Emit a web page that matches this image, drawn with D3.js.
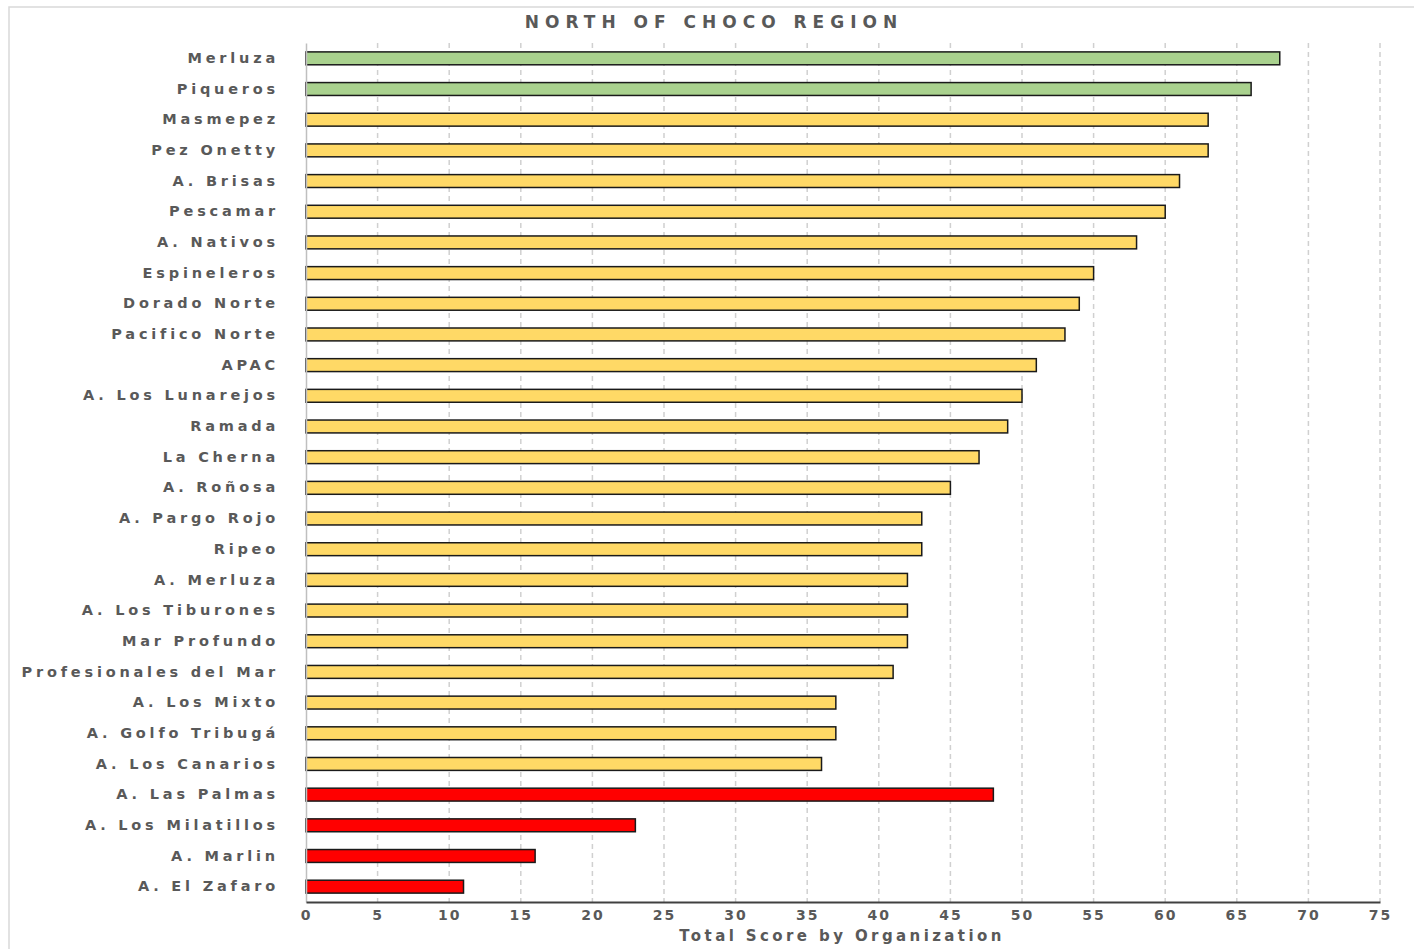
<!DOCTYPE html>
<html>
<head>
<meta charset="utf-8">
<script src="https://cdn.jsdelivr.net/npm/d3@7"></script>
<style>
  body { margin: 0; background: #fff; }
  text { font-family: "DejaVu Sans", sans-serif; font-weight: bold; fill: #595959; }
</style>
</head>
<body>
<svg id="chart" width="1414" height="949"></svg>
<script>
const organizations = [
  "Merluza", "Piqueros", "Masmepez", "Pez Onetty", "A. Brisas", "Pescamar",
  "A. Nativos", "Espineleros", "Dorado Norte", "Pacifico Norte", "APAC",
  "A. Los Lunarejos", "Ramada", "La Cherna", "A. Roñosa", "A. Pargo Rojo",
  "Ripeo", "A. Merluza", "A. Los Tiburones", "Mar Profundo",
  "Profesionales del Mar", "A. Los Mixto", "A. Golfo Tribugá",
  "A. Los Canarios", "A. Las Palmas", "A. Los Milatillos", "A. Marlin",
  "A. El Zafaro"
];
const scores = [68, 66, 63, 63, 61, 60, 58, 55, 54, 53, 51, 50, 49, 47, 45, 43,
  43, 42, 42, 42, 41, 37, 37, 36, 48, 23, 16, 11];
const groups = ["green", "green", "yellow", "yellow", "yellow", "yellow", "yellow",
  "yellow", "yellow", "yellow", "yellow", "yellow", "yellow", "yellow", "yellow",
  "yellow", "yellow", "yellow", "yellow", "yellow", "yellow", "yellow", "yellow",
  "yellow", "red", "red", "red", "red"];
const xTicks = [0, 5, 10, 15, 20, 25, 30, 35, 40, 45, 50, 55, 60, 65, 70, 75];

const groupColor = { green: "#a9d18e", yellow: "#ffd966", red: "#ff0000" };

const data = organizations.map((name, i) => ({ name: name, score: scores[i], group: groups[i] }));

const svg = d3.select("#chart");
const plotLeft = 306, plotRight = 1380, plotTop = 43, plotBottom = 902;

// chart frame
svg.append("rect")
  .attr("x", 9).attr("y", 7).attr("width", 1420).attr("height", 960)
  .attr("fill", "none").attr("stroke", "#d9d9d9").attr("stroke-width", 1.5);

const x = d3.scaleLinear().domain([0, 75]).range([plotLeft, plotRight]);
const y = d3.scaleBand().domain(organizations).range([plotTop, plotBottom]).paddingInner(0.58).paddingOuter(0.29);

// gridlines
svg.append("g")
  .selectAll("line")
  .data(xTicks.filter(t => t > 0))
  .join("line")
  .attr("x1", d => x(d)).attr("x2", d => x(d))
  .attr("y1", plotTop).attr("y2", plotBottom)
  .attr("stroke", "#d0d0d0")
  .attr("stroke-width", 1.5)
  .attr("stroke-dasharray", "5,4");

// bars
svg.append("g")
  .selectAll("rect")
  .data(data)
  .join("rect")
  .attr("x", x(0))
  .attr("y", d => y(d.name))
  .attr("width", d => x(d.score) - x(0))
  .attr("height", y.bandwidth())
  .attr("fill", d => groupColor[d.group])
  .attr("stroke", "#1a1a1a")
  .attr("stroke-width", 1.5);

// y axis
const yAxis = svg.append("g")
  .attr("transform", "translate(" + plotLeft + ",0)")
  .call(d3.axisLeft(y).tickSize(0).tickPadding(27));
yAxis.select(".domain").attr("stroke", "#bfbfbf").attr("stroke-width", 1.5);
yAxis.selectAll("text")
  .attr("font-size", 14.5)
  .style("letter-spacing", "3.8px")
  .style("font-family", "DejaVu Sans")
  .attr("fill", "#595959");

// x axis
const xAxis = svg.append("g")
  .attr("transform", "translate(0," + plotBottom + ")")
  .call(d3.axisBottom(x).tickValues(xTicks).tickSize(0).tickPadding(8));
xAxis.select(".domain").attr("stroke", "#404040").attr("stroke-width", 2);
xAxis.selectAll("text")
  .attr("font-size", 14)
  .style("letter-spacing", "2px")
  .style("font-family", "DejaVu Sans")
  .attr("fill", "#595959");

// titles
svg.append("text")
  .attr("x", 714).attr("y", 28)
  .attr("text-anchor", "middle")
  .attr("font-size", 17)
  .style("letter-spacing", "6px")
  .text("NORTH OF CHOCO REGION");

svg.append("text")
  .attr("x", 842).attr("y", 941)
  .attr("text-anchor", "middle")
  .attr("font-size", 15)
  .style("letter-spacing", "3.4px")
  .text("Total Score by Organization");
</script>
</body>
</html>
